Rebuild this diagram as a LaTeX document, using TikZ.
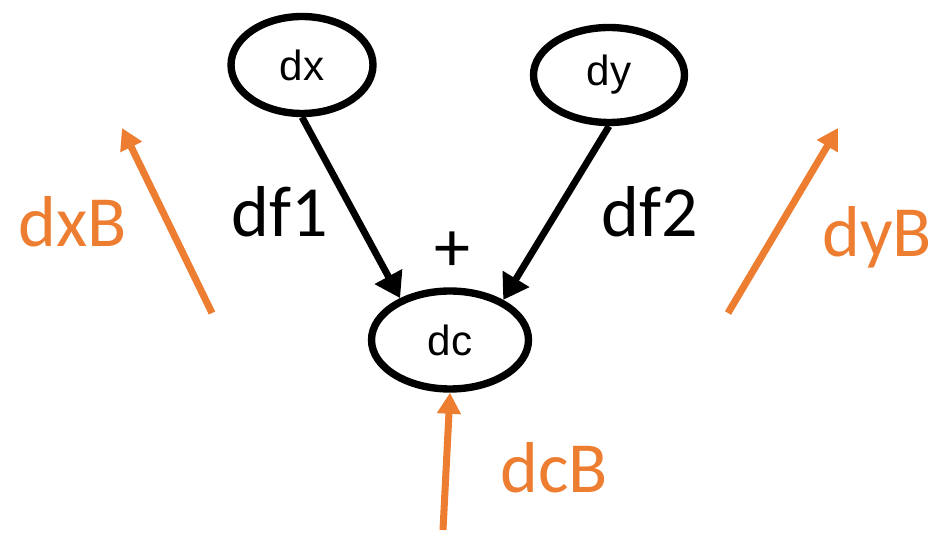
\documentclass[tikz,border=0pt]{standalone}
\usepackage{fontspec}
\setmainfont{Carlito}
\newfontfamily\nodefont{Liberation Sans}
\usetikzlibrary{arrows.meta,shapes.geometric}
\definecolor{BackOrange}{RGB}{237,125,49}
\tikzset{
  var/.style={draw=black,ellipse,line width=4.2pt,fill=white,inner sep=0pt,
    font=\nodefont\fontsize{24}{28}\selectfont},
  biglabel/.style={font=\fontsize{41}{48}\selectfont,inner sep=0pt},
  forward/.style={-{Triangle[length=14pt,width=17pt]},line width=3.9pt,black},
  backward/.style={-{Triangle[length=12pt,width=13pt]},line width=4pt,BackOrange}
}

\begin{document}
\begin{tikzpicture}[x=0.02cm,y=-0.02cm]
\useasboundingbox (0,0) rectangle (946,536);

% Variables
\node[var,minimum width=2.84cm,minimum height=1.94cm] (dx) at (302,65) {dx};
\node[var,minimum width=3.02cm,minimum height=1.90cm] (dy) at (609,75) {dy};
\node[var,minimum width=3.14cm,minimum height=1.96cm] (dc) at (450,340) {dc};

% Forward edges
\draw[forward] (dx.south) -- (dc.140);
\draw[forward] (dy.south) -- (dc.37);
\node[biglabel] (f1) at (280,212) {df1};
\node[biglabel] (f2) at (650,212) {df2};
\node[biglabel] (plus) at (452,252) {+};

% Backward gradients
\coordinate (xBstart) at (212,313);
\coordinate (xBend) at (122,128);
\coordinate (yBstart) at (728,313);
\coordinate (yBend) at (838,128);
\coordinate (cBstart) at (443,530);
\draw[backward] (xBstart) -- (xBend);
\draw[backward] (yBstart) -- (yBend);
\draw[backward] (cBstart) -- (dc.south);
\node[biglabel,BackOrange] (xB) at (73,222) {dxB};
\node[biglabel,BackOrange] (yB) at (877,237) {dyB};
\node[biglabel,BackOrange] (cB) at (554,468) {dcB};

\end{tikzpicture}
\end{document}
